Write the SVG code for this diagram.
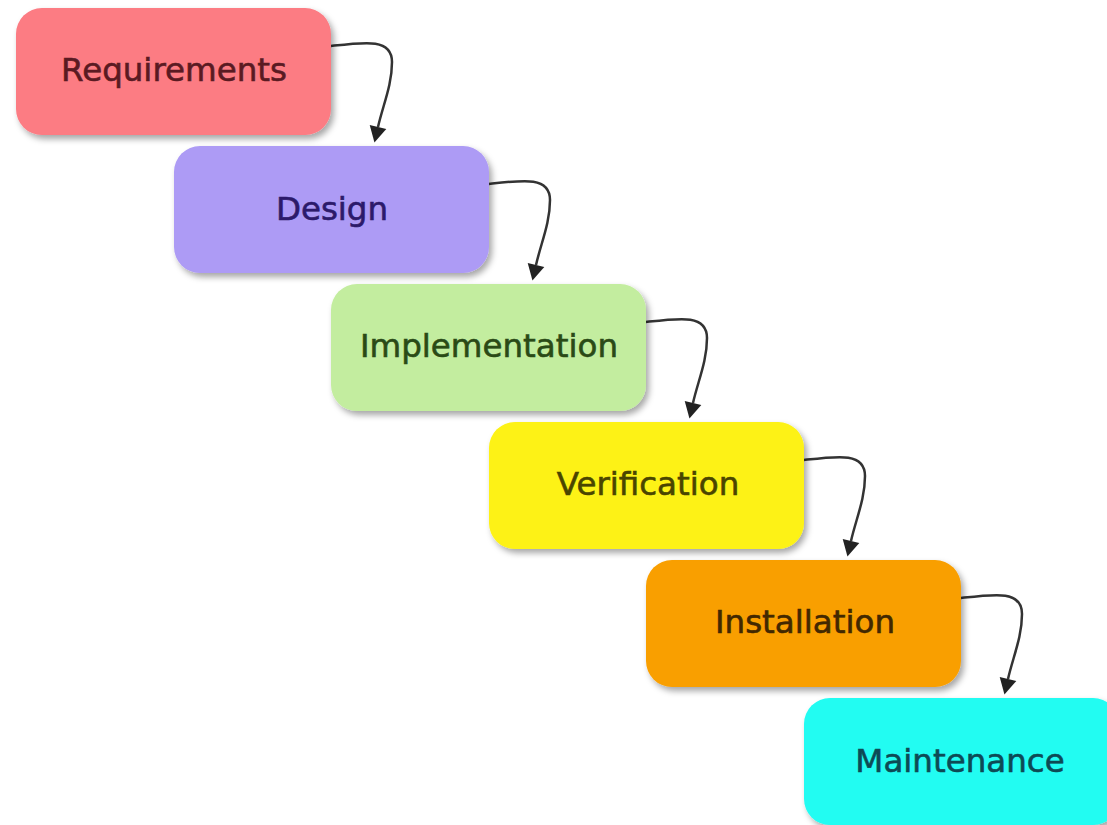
<svg xmlns="http://www.w3.org/2000/svg" width="1107" height="825" viewBox="0 0 1107 825">
<defs>
<filter id="sh" x="-10%" y="-10%" width="125%" height="135%">
<feDropShadow dx="3" dy="4" stdDeviation="3" flood-color="#000" flood-opacity="0.35"/>
</filter>
<marker id="ah" markerUnits="userSpaceOnUse" viewBox="-1 -10 18 20" refX="0" refY="0" markerWidth="18" markerHeight="20" orient="auto">
<path d="M0,-8.5 L16,0 L0,8.5 z" fill="#222"/>
</marker>
</defs>
<style>
.box{stroke:none;filter:url(#sh)}
.lbl{font-family:"DejaVu Sans",Verdana,sans-serif;font-size:32.5px;text-anchor:middle;dominant-baseline:central;stroke-width:0.6}
.con{fill:none;stroke:#333;stroke-width:2.5;marker-end:url(#ah)}
</style>
<rect width="1107" height="825" fill="#fff"/>
<g id="connectors">
<path class="con" d="M331,46 c34,-4 61,-8 61,16 c0,23 -9,43 -14,65"/>
<path class="con" d="M489,184 c34,-4 61,-8 61,16 c0,23 -9,43 -14,65"/>
<path class="con" d="M646,322 c34,-4 61,-8 61,16 c0,23 -9,43 -14,65"/>
<path class="con" d="M804,460 c34,-4 61,-8 61,16 c0,23 -9,43 -14,65"/>
<path class="con" d="M961,598 c34,-4 61,-8 61,16 c0,23 -9,43 -14,65"/>
</g>
<g id="requirements">
<rect class="box" x="16" y="8" width="315" height="127" rx="26" fill="#fc7b83"/>
<text class="lbl" x="174" y="70" fill="#5a1a22" stroke="#5a1a22">Requirements</text>
</g>
<g id="design">
<rect class="box" x="174" y="146" width="315" height="127" rx="26" fill="#ad9bf5"/>
<text class="lbl" x="332" y="209" fill="#2c1a6a" stroke="#2c1a6a">Design</text>
</g>
<g id="implementation">
<rect class="box" x="331" y="284" width="315" height="127" rx="26" fill="#c3ed9f"/>
<text class="lbl" x="489" y="346" fill="#2a4a16" stroke="#2a4a16">Implementation</text>
</g>
<g id="verification">
<rect class="box" x="489" y="422" width="315" height="127" rx="26" fill="#fdf213"/>
<text class="lbl" x="648" y="484" fill="#4a4500" stroke="#4a4500">Verification</text>
</g>
<g id="installation">
<rect class="box" x="646" y="560" width="315" height="127" rx="26" fill="#f99f02"/>
<text class="lbl" x="805" y="622" fill="#422800" stroke="#422800">Installation</text>
</g>
<g id="maintenance">
<rect class="box" x="804" y="698" width="315" height="127" rx="26" fill="#22fcf2"/>
<text class="lbl" x="960" y="761" fill="#0d4a55" stroke="#0d4a55">Maintenance</text>
</g>
</svg>
